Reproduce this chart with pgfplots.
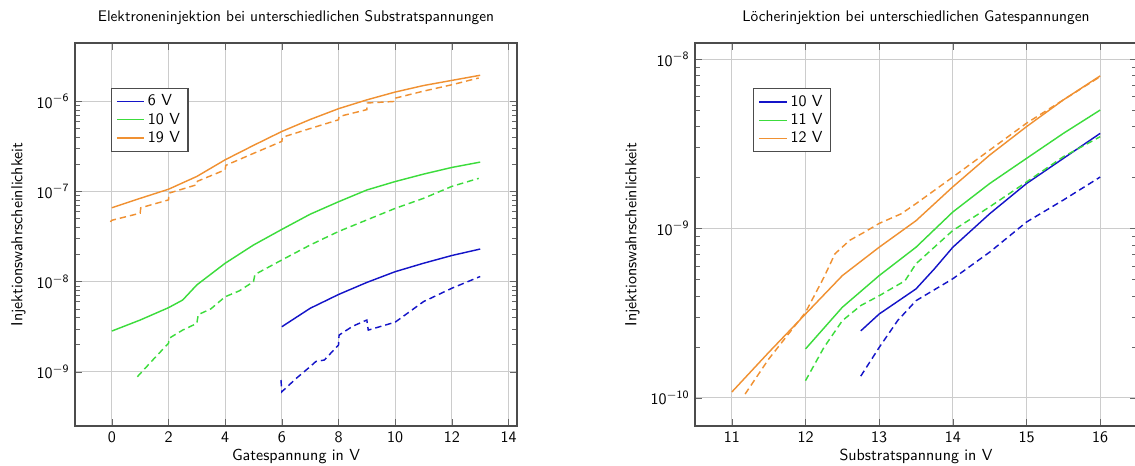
\documentclass[border=0pt]{standalone}
\usepackage{pgfplots}
\pgfplotsset{compat=1.18}
\renewcommand{\familydefault}{\sfdefault}
\definecolor{cblue}{RGB}{20,20,200}
\definecolor{cgreen}{RGB}{60,220,60}
\definecolor{corange}{RGB}{240,145,50}
\pgfplotsset{
  every axis/.append style={
    font=\sffamily,
    width=276.25pt, height=239.4pt, scale only axis,
    ymode=log, grid=major,
    major grid style={gray!40, line width=0.6pt},
    axis line style={black!70, line width=0.8pt},
    tick style={black!60},
    title style={font=\sffamily\fontsize{9.6}{11}\selectfont, yshift=2pt},
    xlabel style={yshift=3pt},
    legend style={font=\sffamily, draw=black!70, line width=0.7pt, anchor=north west, cells={anchor=west}, row sep=-1pt},
    legend image post style={line width=0.8pt, solid},
    legend cell align=left,
    ylabel={Injektionswahrscheinlichkeit},
  },
  sol/.style={line width=0.9pt},
  das/.style={line width=0.9pt, dash pattern=on 4pt off 2.5pt},
}
\newcommand{\dec}[1]{$\mathsf{10}^{\mathsf{#1}}$}
\begin{document}
\begin{tikzpicture}
\begin{axis}[name=l, at={(0,0)}, anchor=south west,
  title={Elektroneninjektion bei unterschiedlichen Substratspannungen},
  xlabel={Gatespannung in V},
  xmin=-1.3, xmax=14.3, ymin=2.5e-10, ymax=4.45e-6,
  xtick={0,2,...,14}, xticklabels={0,2,4,6,8,10,12,14},
  ytick={1e-9,1e-8,1e-7,1e-6}, yticklabels={\dec{-9},\dec{-8},\dec{-7},\dec{-6}},
  legend style={at={(0.081,0.883)}},
]
\addplot[sol, cblue] coordinates {(6,3.16e-9)(7,5.06e-9)(8,7.2e-9)(9,9.8e-9)(10,1.29e-8)(11,1.6e-8)(12,1.95e-8)(13,2.3e-8)};
\addlegendentry{6 V}
\addplot[sol, cgreen] coordinates {(0,2.83e-9)(1,3.75e-9)(2,5.14e-9)(2.5,6.25e-9)(3,9.2e-9)(4,1.6e-8)(5,2.55e-8)(6,3.8e-8)(7,5.6e-8)(8,7.7e-8)(9,1.04e-7)(10,1.29e-7)(11,1.56e-7)(12,1.85e-7)(13,2.12e-7)};
\addlegendentry{10 V}
\addplot[sol, corange] coordinates {(0,6.6e-8)(1,8.4e-8)(2,1.06e-7)(3,1.47e-7)(4,2.25e-7)(5,3.25e-7)(6,4.64e-7)(7,6.3e-7)(8,8.3e-7)(9,1.04e-6)(10,1.27e-6)(11,1.5e-6)(12,1.71e-6)(13,1.95e-6)};
\addlegendentry{19 V}
\addplot[das, cblue, forget plot] coordinates {(5.97,8.1e-10)(6.0,6.0e-10)(6.5,8.4e-10)(7,1.14e-9)(7.2,1.3e-9)(7.5,1.35e-9)(8,1.98e-9)(8.02,2.55e-9)(8.5,3.2e-9)(9,3.75e-9)(9.05,2.9e-9)(10,3.55e-9)(11,6.0e-9)(12,8.45e-9)(13,1.14e-8)};
\addplot[das, cgreen, forget plot] coordinates {(0.9,8.8e-10)(1.5,1.41e-9)(2,2.07e-9)(2.02,2.35e-9)(2.5,2.9e-9)(3,3.44e-9)(3.05,4.3e-9)(3.5,5.0e-9)(4,6.8e-9)(4.5,7.9e-9)(5,1.0e-8)(5.05,1.2e-8)(6,1.74e-8)(7,2.55e-8)(8,3.6e-8)(9,4.84e-8)(10,6.5e-8)(11,8.4e-8)(12,1.14e-7)(12.95,1.4e-7)};
\addplot[das, corange, forget plot] coordinates {(-0.05,4.6e-8)(0,4.8e-8)(1,5.75e-8)(1.02,6.6e-8)(2,8.07e-8)(2.02,9.6e-8)(3,1.19e-7)(3.02,1.3e-7)(4,1.74e-7)(4.02,1.95e-7)(5,2.65e-7)(6,3.6e-7)(6.02,4.0e-7)(7,5.0e-7)(8,6.25e-7)(8.02,6.8e-7)(9,8.1e-7)(9.02,9.6e-7)(10,1.0e-6)(10.02,1.09e-6)(11,1.3e-6)(12,1.53e-6)(12.95,1.82e-6)};
\end{axis}
\begin{axis}[name=r, at={(387.5pt,0)}, anchor=south west,
  title={Löcherinjektion bei unterschiedlichen Gatespannungen},
  xlabel={Substratspannung in V},
  xmin=10.5, xmax=16.5, ymin=6.8e-11, ymax=1.245e-8,
  xtick={11,...,16}, xticklabels={11,12,13,14,15,16},
  ytick={1e-10,1e-9,1e-8}, yticklabels={\dec{-10},\dec{-9},\dec{-8}},
  legend style={at={(0.132,0.882)}},
]
\addplot[sol, cblue] coordinates {(12.75,2.48e-10)(13,3.12e-10)(13.5,4.39e-10)(13.75,5.77e-10)(14,7.74e-10)(14.5,1.22e-9)(15,1.84e-9)(15.5,2.59e-9)(16,3.64e-9)};
\addlegendentry{10 V}
\addplot[sol, cgreen] coordinates {(12,1.94e-10)(12.5,3.42e-10)(13,5.26e-10)(13.5,7.74e-10)(14,1.25e-9)(14.5,1.84e-9)(15,2.59e-9)(15.5,3.64e-9)(16,5.0e-9)};
\addlegendentry{11 V}
\addplot[sol, corange] coordinates {(11,1.08e-10)(11.5,1.85e-10)(12,3.12e-10)(12.5,5.26e-10)(13,7.74e-10)(13.5,1.11e-9)(14,1.76e-9)(14.5,2.71e-9)(15,3.99e-9)(15.5,5.74e-9)(16,7.96e-9)};
\addlegendentry{12 V}
\addplot[das, cblue, forget plot] coordinates {(12.75,1.34e-10)(13,1.98e-10)(13.25,2.85e-10)(13.5,3.74e-10)(14,5.04e-10)(14.5,7.24e-10)(15,1.09e-9)(15.5,1.47e-9)(16,2.01e-9)};
\addplot[das, cgreen, forget plot] coordinates {(12,1.26e-10)(12.25,1.98e-10)(12.5,2.85e-10)(12.75,3.5e-10)(13,4.0e-10)(13.35,4.9e-10)(13.5,6.18e-10)(14,9.72e-10)(14.5,1.34e-9)(15,1.88e-9)(15.5,2.65e-9)(16,3.48e-9)};
\addplot[das, corange, forget plot] coordinates {(11.18,1.05e-10)(11.5,1.69e-10)(12,3.19e-10)(12.25,5.14e-10)(12.4,7.08e-10)(12.6,8.5e-10)(12.8,9.5e-10)(13,1.07e-9)(13.3,1.22e-9)(13.5,1.4e-9)(14,2.01e-9)(14.5,2.9e-9)(15,4.18e-9)(15.5,5.74e-9)(16,7.88e-9)};
\end{axis}
\pgfresetboundingbox
\path[use as bounding box] (-46.875pt,-24.375pt) rectangle (662.5pt,266.25pt);
\end{tikzpicture}
\end{document}
